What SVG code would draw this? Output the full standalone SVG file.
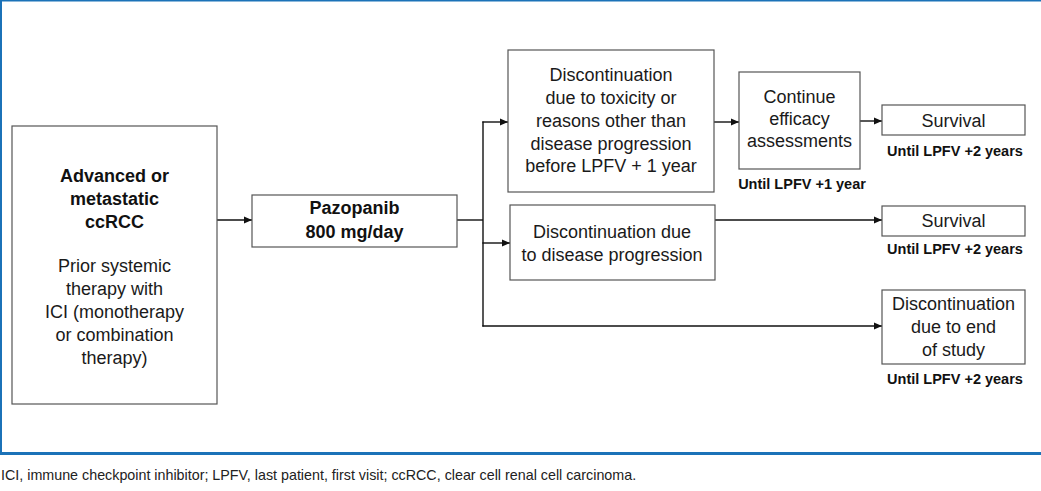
<svg xmlns="http://www.w3.org/2000/svg" width="1041" height="491" viewBox="0 0 1041 491">
<defs>
<style>
.box{fill:#fff;stroke:#555;stroke-width:1.2}
.t{font-family:"Liberation Sans",Arial,sans-serif;font-size:18px;fill:#1a1a1a;text-anchor:middle}
.b{font-weight:bold;fill:#111}
.u{font-family:"Liberation Sans",Arial,sans-serif;font-size:14.5px;font-weight:bold;fill:#111;text-anchor:middle}
.c{fill:none;stroke:#111;stroke-width:1.4}
.frame{stroke:#1b72b8;fill:none}
</style>
<marker id="ah" markerUnits="userSpaceOnUse" markerWidth="9" markerHeight="8" refX="8" refY="4" orient="auto">
<path d="M0,0.5 L8,4 L0,7.5 z" fill="#111"/>
</marker>
</defs>
<rect width="1041" height="491" fill="#fff"/>
<g id="frame">
<line class="frame" x1="0" y1="0.75" x2="1041" y2="0.75" stroke-width="1.5"/>
<line class="frame" x1="1" y1="0" x2="1" y2="455" stroke-width="2"/>
<line class="frame" x1="0" y1="453.5" x2="1041" y2="453.5" stroke-width="3"/>
</g>
<g id="connectors">
<line class="c" x1="217" y1="220" x2="252" y2="220" marker-end="url(#ah)"/>
<line class="c" x1="457" y1="220" x2="483" y2="220"/>
<line class="c" x1="483" y1="121.5" x2="483" y2="326.5"/>
<line class="c" x1="482.3" y1="122" x2="508" y2="122" marker-end="url(#ah)"/>
<line class="c" x1="482.3" y1="243" x2="510" y2="243" marker-end="url(#ah)"/>
<line class="c" x1="482.3" y1="326" x2="882" y2="326" marker-end="url(#ah)"/>
<line class="c" x1="714" y1="122" x2="739" y2="122" marker-end="url(#ah)"/>
<line class="c" x1="860" y1="121" x2="882" y2="121" marker-end="url(#ah)"/>
<line class="c" x1="715" y1="220" x2="882" y2="220" marker-end="url(#ah)"/>
</g>
<g id="node-population">
<rect class="box" x="12" y="126" width="205" height="278"/>
<text class="t b" x="114.5" y="182">Advanced or</text>
<text class="t b" x="114.5" y="205">metastatic</text>
<text class="t b" x="114.5" y="228">ccRCC</text>
<text class="t" x="114.5" y="272">Prior systemic</text>
<text class="t" x="114.5" y="295">therapy with</text>
<text class="t" x="114.5" y="318">ICI (monotherapy</text>
<text class="t" x="114.5" y="341">or combination</text>
<text class="t" x="114.5" y="364">therapy)</text>
</g>
<g id="node-pazopanib">
<rect class="box" x="252" y="195" width="205" height="52"/>
<text class="t b" x="354.5" y="214">Pazopanib</text>
<text class="t b" x="354.5" y="238">800 mg/day</text>
</g>
<g id="node-disc-toxicity">
<rect class="box" x="508" y="50" width="206" height="142"/>
<text class="t" x="611" y="81">Discontinuation</text>
<text class="t" x="611" y="104">due to toxicity or</text>
<text class="t" x="611" y="127">reasons other than</text>
<text class="t" x="611" y="150">disease progression</text>
<text class="t" x="611" y="172">before LPFV + 1 year</text>
</g>
<g id="node-continue">
<rect class="box" x="739" y="72" width="121" height="97"/>
<text class="t" x="799.5" y="103">Continue</text>
<text class="t" x="799.5" y="125">efficacy</text>
<text class="t" x="799.5" y="147">assessments</text>
<text class="u" x="802" y="189">Until LPFV +1 year</text>
</g>
<g id="node-survival1">
<rect class="box" x="882" y="105" width="143" height="30"/>
<text class="t" x="953.5" y="127">Survival</text>
<text class="u" x="955" y="156">Until LPFV +2 years</text>
</g>
<g id="node-disc-progression">
<rect class="box" x="510" y="205" width="205" height="75"/>
<text class="t" x="612" y="238">Discontinuation due</text>
<text class="t" x="612" y="261">to disease progression</text>
</g>
<g id="node-survival2">
<rect class="box" x="882" y="206" width="143" height="30"/>
<text class="t" x="953.5" y="227">Survival</text>
<text class="u" x="955" y="254">Until LPFV +2 years</text>
</g>
<g id="node-disc-end">
<rect class="box" x="882" y="290" width="143" height="74"/>
<text class="t" x="953.5" y="310">Discontinuation</text>
<text class="t" x="953.5" y="333">due to end</text>
<text class="t" x="953.5" y="356">of study</text>
<text class="u" x="955" y="384">Until LPFV +2 years</text>
</g>
<text x="1" y="480" font-family="&quot;Liberation Sans&quot;,Arial,sans-serif" font-size="14.3" fill="#222">ICI, immune checkpoint inhibitor; LPFV, last patient, first visit; ccRCC, clear cell renal cell carcinoma.</text>
</svg>
